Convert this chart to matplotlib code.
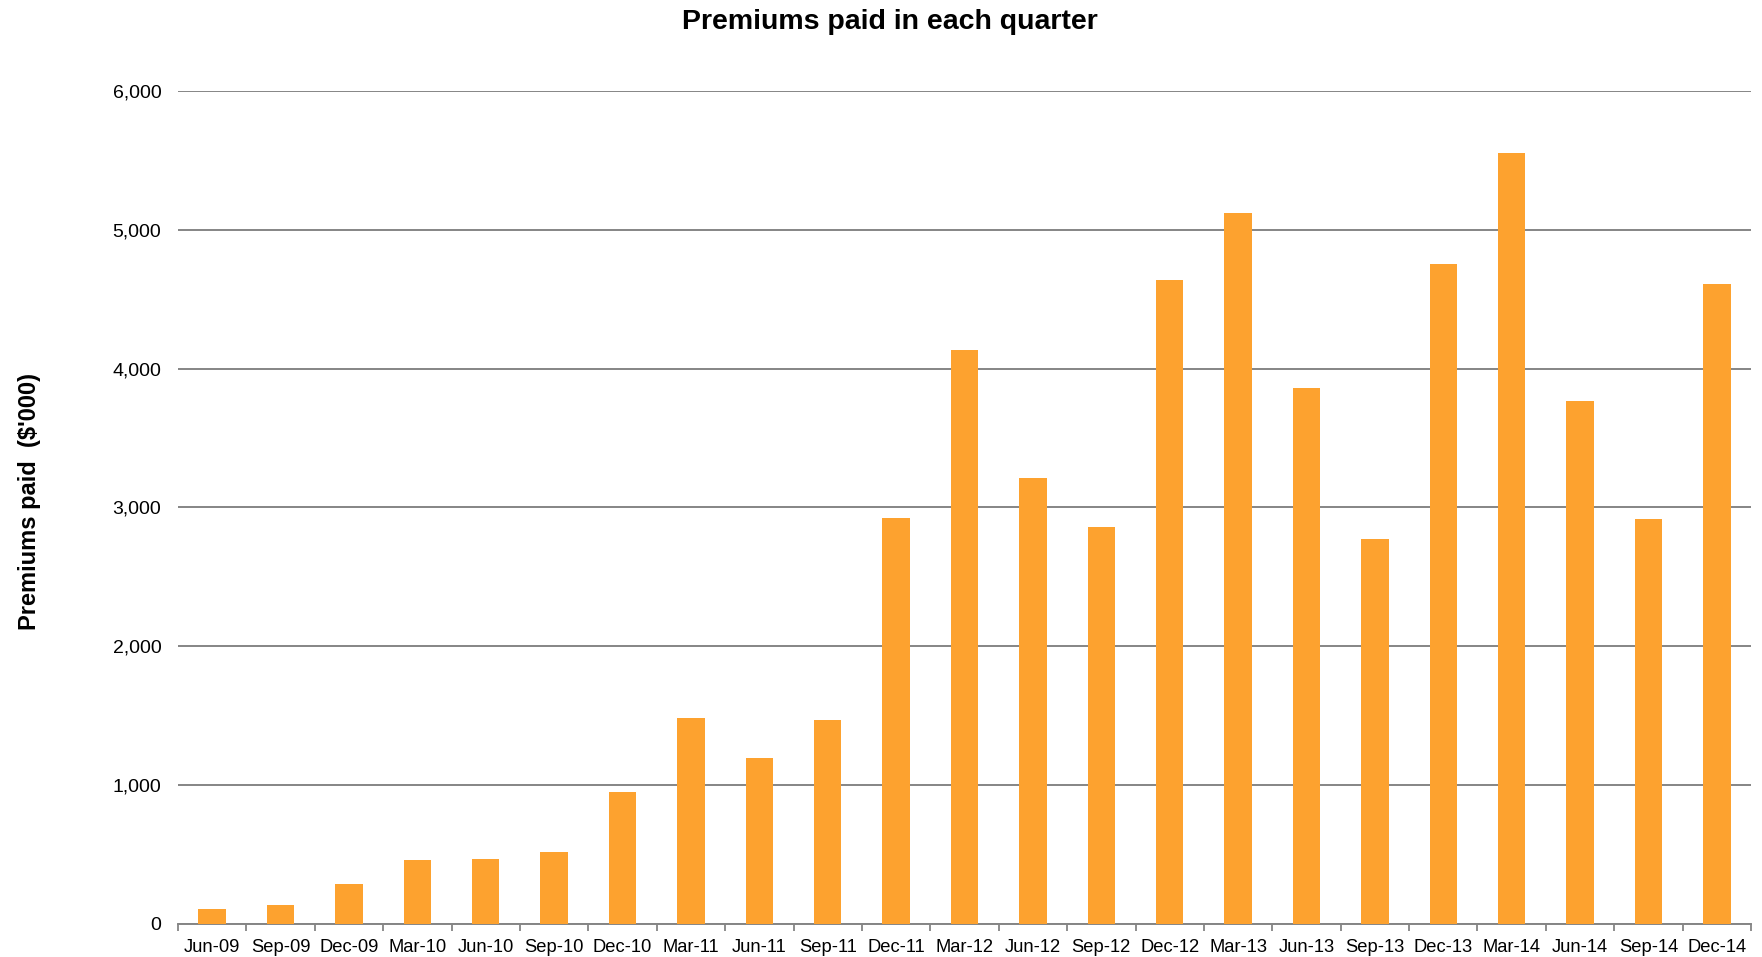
import numpy as np
import matplotlib
matplotlib.use("Agg")
import matplotlib.pyplot as plt
from matplotlib.ticker import FuncFormatter, FixedLocator, NullFormatter

plt.rcParams["font.family"] = ["Liberation Sans", "DejaVu Sans"]

quarters = ["Jun-09", "Sep-09", "Dec-09", "Mar-10", "Jun-10", "Sep-10", "Dec-10",
            "Mar-11", "Jun-11", "Sep-11", "Dec-11", "Mar-12", "Jun-12", "Sep-12",
            "Dec-12", "Mar-13", "Jun-13", "Sep-13", "Dec-13", "Mar-14", "Jun-14",
            "Sep-14", "Dec-14"]
premiums = [105, 135, 289, 463, 467, 520, 947,
            1487, 1193, 1470, 2925, 4132, 3209, 2860,
            4638, 5120, 3860, 2774, 4753, 5553, 3764,
            2916, 4609]

fig = plt.figure(figsize=(17.62, 9.57), dpi=100)
ax = fig.add_axes([0.101, 0.0345, 0.8928, 0.8705])

x = np.arange(len(quarters))
ax.bar(x, premiums, width=0.4, color="#FDA22F", zorder=3)

ax.set_xlim(-0.5, len(quarters) - 0.5)
ax.set_ylim(0, 6000)
ax.set_yticks(np.arange(0, 6001, 1000))
ax.yaxis.set_major_formatter(FuncFormatter(lambda v, p: f"{int(v):,}"))
ax.grid(axis="y", color="#858585", linewidth=1.4, zorder=0)
ax.tick_params(axis="y", length=0, pad=12, labelsize=14)

# category labels centred, tick marks on the boundaries
ax.set_xticks(x)
ax.set_xticklabels(quarters)
ax.tick_params(axis="x", which="major", length=0, pad=11, labelsize=13.2)
ax.xaxis.set_minor_locator(FixedLocator(np.arange(-0.5, len(quarters), 1.0)))
ax.xaxis.set_minor_formatter(NullFormatter())
ax.tick_params(axis="x", which="minor", length=5, width=1.3, color="#858585")

for s in ["top", "right", "left"]:
    ax.spines[s].set_visible(False)
ax.spines["bottom"].set_color("#858585")
ax.spines["bottom"].set_linewidth(1.4)

ax.set_ylabel("Premiums paid  ($'000)", fontsize=17, fontweight="bold", labelpad=0)
ax.yaxis.set_label_coords(-0.087, 0.507)
fig.text(0.505, 0.977, "Premiums paid in each quarter", ha="center", va="center",
         fontsize=20.5, fontweight="bold")

fig.savefig("out.png", dpi=100)
